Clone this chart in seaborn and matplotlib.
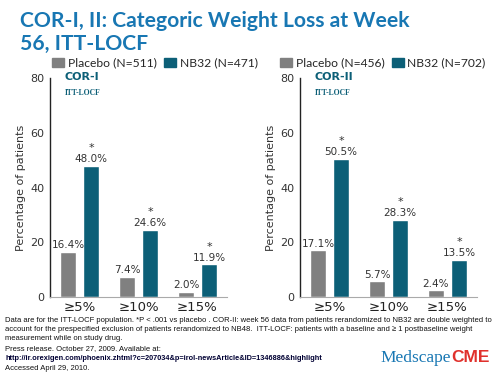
import matplotlib
matplotlib.use("Agg")
import matplotlib.pyplot as plt
import seaborn as sns
import pandas as pd
from matplotlib.patches import Rectangle

categories = ["\u22655%", "\u226510%", "\u226515%"]
groups = ["Placebo", "NB32"]
cor1_placebo = [16.4, 7.4, 2.0]
cor1_nb32 = [48.0, 24.6, 11.9]
cor2_placebo = [17.1, 5.7, 2.4]
cor2_nb32 = [50.5, 28.3, 13.5]
cor1_legend = ["Placebo (N=511)", "NB32 (N=471)"]
cor2_legend = ["Placebo (N=456)", "NB32 (N=702)"]
yticks = [0, 20, 40, 60, 80]

GRAY = "#808080"
TEAL = "#0c5f77"
BLUE = "#1877b3"
TXT = "#333333"

sns.set_style("white")
plt.rcParams["font.family"] = ["DejaVu Sans"]

fig = plt.figure(figsize=(5, 3.75), dpi=100)

def make_df(p, n):
    return pd.DataFrame({
        "cat": categories * 2,
        "grp": [groups[0]] * 3 + [groups[1]] * 3,
        "val": list(p) + list(n),
    })

def draw(ax, p, n, name, legend_labels, leg_x):
    df = make_df(p, n)
    sns.barplot(data=df, x="cat", y="val", hue="grp", hue_order=groups,
                palette=[GRAY, TEAL], width=0.78, gap=0.3, ax=ax,
                saturation=1, legend=False)
    ax.set_xlim(-0.5, 2.5)
    ax.set_ylim(0, 80)
    ax.set_yticks(yticks)
    ax.set_yticklabels([str(t) for t in yticks], fontsize=8, color=TXT)
    ax.tick_params(axis="y", length=3, width=0.8, color="#222222", pad=1)
    ax.tick_params(axis="x", length=0, pad=3, labelsize=9.5, labelcolor="#222222")
    ax.set_xlabel("")
    ax.set_ylabel("Percentage of patients", fontsize=8, color=TXT, labelpad=3)
    for s in ["top", "right"]:
        ax.spines[s].set_visible(False)
    ax.spines["left"].set_color("#222222")
    ax.spines["left"].set_linewidth(1.0)
    ax.spines["bottom"].set_color("#aaaaaa")
    ax.spines["bottom"].set_linewidth(0.8)
    for cont, vals, star in zip(ax.containers, [p, n], [False, True]):
        for bar, v in zip(cont, vals):
            cx = bar.get_x() + bar.get_width() / 2
            ax.text(cx, v + 0.6, f"{v:.1f}%", ha="center", va="bottom",
                    fontsize=7.5, color=TXT)
            if star:
                ax.text(cx, v + 4.6, "*", ha="center", va="bottom",
                        fontsize=8, color=TXT)
    ax.text(-0.25, 80.4, name, ha="left", va="center", fontsize=8,
            fontweight="bold", color=TEAL)
    ax.text(-0.25, 74.5, "ITT-LOCF", ha="left", va="center", fontsize=5.5,
            fontweight="bold", color=TEAL, family="Liberation Serif")
    handles = [Rectangle((0, 0), 1, 1, color=GRAY), Rectangle((0, 0), 1, 1, color=TEAL)]
    fig.legend(handles, legend_labels, loc="center left",
               bbox_to_anchor=(leg_x, 1 - 63 / 375), ncol=2, frameon=False,
               prop={"family": "Lato", "size": 8.7},
               handlelength=1.0, handleheight=0.8,
               handletextpad=0.3, columnspacing=0.6, borderpad=0,
               borderaxespad=0)

ax1 = fig.add_axes([0.10, 0.208, 0.354, 0.584])
ax2 = fig.add_axes([0.60, 0.208, 0.354, 0.584])
draw(ax1, cor1_placebo, cor1_nb32, "COR-I", cor1_legend, 0.104)
draw(ax2, cor2_placebo, cor2_nb32, "COR-II", cor2_legend, 0.56)

TITLE_SIZE = 15.2
fig.text(0.04, 1 - 27 / 375, "COR-I, II: Categoric Weight Loss at Week",
         fontsize=TITLE_SIZE, fontweight="bold", color=BLUE, family="Lato",
         ha="left", va="baseline")
fig.text(0.04, 1 - 50 / 375, "56, ITT-LOCF",
         fontsize=TITLE_SIZE, fontweight="bold", color=BLUE, family="Lato",
         ha="left", va="baseline")

foot = [
    "Data are for the ITT-LOCF population. *P < .001 vs placebo . COR-II: week 56 data from patients rerandomized to NB32 are double weighted to",
    "account for the prespecified exclusion of patients rerandomized to NB48.  ITT-LOCF: patients with a baseline and \u2265 1 postbaseline weight",
    "measurement while on study drug.",
    "Press release. October 27, 2009. Available at:",
    "http://ir.orexigen.com/phoenix.zhtml?c=207034&p=irol-newsArticle&ID=1346886&highlight",
    "Accessed April 29, 2010.",
]
ys = [322, 331, 340, 350, 360, 370]
for line, y in zip(foot, ys):
    t = fig.text(0.01, 1 - y / 375, line, fontsize=5.5, color="#111111",
                 ha="left", va="baseline", family="Liberation Sans")
    if line.startswith("http"):
        t.set_color("#000033")
        t.set_fontweight("bold")
        t.set_fontsize(5.3)

fig.text(380 / 500, 1 - 362 / 375, "Medscape", fontsize=12.5, color=BLUE,
         family="Liberation Serif", ha="left", va="baseline")
fig.text(490 / 500, 1 - 362 / 375, "CME", fontsize=12.5, color="#e0312c",
         family="Liberation Sans", fontweight="bold", ha="right", va="baseline")

fig.savefig("out.png", dpi=100)
